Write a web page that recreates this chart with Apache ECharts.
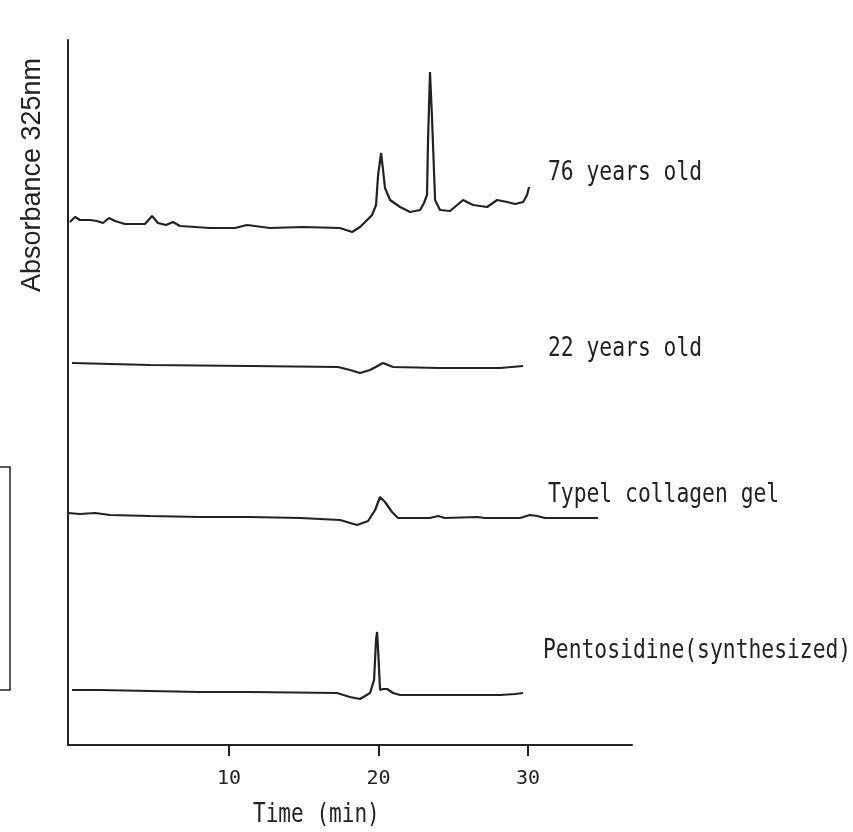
<!DOCTYPE html>
<html>
<head>
<meta charset="utf-8">
<script src="https://cdn.jsdelivr.net/npm/echarts@6/dist/echarts.min.js"></script>
<style>html,body{margin:0;padding:0;background:#fff}#c{width:853px;height:832px}</style>
</head>
<body>
<div id="c"></div>
<script>
// Retention time (min) and absorbance (arbitrary units, traces stacked with offsets)
var t76 = [-0.64,-0.30,0.03,0.70,1.17,1.57,1.97,2.37,3.04,4.38,4.85,5.25,5.79,6.25,6.72,8.73,10.40,11.20,12.74,14.95,17.42,18.23,18.76,19.10,19.57,19.83,19.97,20.17,20.30,20.43,20.77,21.44,22.11,22.78,23.04,23.24,23.31,23.44,23.58,23.78,24.11,24.78,25.65,26.32,27.26,27.93,28.60,29.13,29.67,29.93,30.07];
var a76 = [523,528,525,525,524,522,527,524,521,521,529,522,520,523,519,517,517,520,517,518,517,513,518,523,530,540,570,592,575,557,545,538,533,535,542,550,605,673,625,545,535,534,545,540,538,545,543,541,543,550,558];

var t22 = [-0.50,4.72,11.40,17.29,18.09,18.76,19.43,20.30,20.97,24.11,28.13,29.67];
var a22 = [382,380,379,378,375,372,375,382,378,377,377,379];

var tGel = [-0.77,0.03,1.04,2.04,4.72,8.06,11.40,14.75,17.42,18.56,19.30,19.77,20.10,20.43,20.90,21.30,23.44,23.98,24.44,26.59,27.12,29.46,30.13,30.60,31.14,34.68];
var aGel = [232,231,232,230,229,228,228,227,225,220,224,235,248,243,233,227,227,229,227,228,227,227,230,229,227,227];

var tPen = [-0.50,1.37,4.72,8.06,11.40,17.22,18.09,18.76,19.43,19.70,19.83,19.90,19.97,20.10,20.30,20.57,20.97,21.44,28.13,29.13,29.67];
var aPen = [55,55,54,53,53,52,48,46,52,65,105,113,95,55,56,56,52,50,50,51,52];

var tickValues = [10, 20, 30];
var seriesNames = ['76 years old', '22 years old', 'Typel collagen gel', 'Pentosidine(synthesized)'];

function zip(t, a) { return t.map(function (v, i) { return [v, a[i]]; }); }
var traces = [zip(t76, a76), zip(t22, a22), zip(tGel, aGel), zip(tPen, aPen)];

var mono = "'DejaVu Sans Mono', 'Liberation Mono', monospace";
var ink = '#222';

var chart = echarts.init(document.getElementById('c'), null, { renderer: 'canvas' });
var labelPos = [[548, 173], [548, 349], [548, 495], [543, 651]];

var graphics = seriesNames.map(function (n, i) {
  return {
    type: 'text', x: labelPos[i][0], y: labelPos[i][1], scaleX: 0.79,
    style: { text: n, font: '27px ' + mono, fill: ink, textAlign: 'left', textVerticalAlign: 'middle' }
  };
});
graphics.push({
  type: 'text', x: 253, y: 815, scaleX: 0.78,
  style: { text: 'Time (min)', font: '27px ' + mono, fill: ink, textAlign: 'left', textVerticalAlign: 'middle' }
});
graphics.push({
  type: 'text', x: 33, y: 175, rotation: Math.PI / 2,
  style: { text: 'Absorbance 325nm', font: "27px 'Liberation Sans', Arial, sans-serif", fill: ink, textAlign: 'center', textVerticalAlign: 'middle' }
});
graphics.push({
  type: 'rect', shape: { x: -1, y: 467, width: 11, height: 223 },
  style: { fill: 'none', stroke: '#222', lineWidth: 1.5 }
});

chart.setOption({
  animation: false,
  backgroundColor: '#fff',
  grid: { left: 68, right: 221, top: 40, bottom: 87, containLabel: false, outerBoundsMode: 'none' },
  xAxis: {
    type: 'value', min: -0.77, max: 36.95,
    axisLine: { show: true, onZero: false, lineStyle: { color: '#222', width: 2 } },
    axisTick: { show: true, length: 11, customValues: tickValues, lineStyle: { color: '#222', width: 2 } },
    axisLabel: { customValues: tickValues, fontFamily: mono, fontSize: 20, color: ink, margin: 24 },
    splitLine: { show: false }
  },
  yAxis: {
    type: 'value', min: 0, max: 705,
    axisLine: { show: true, onZero: false, lineStyle: { color: '#222', width: 2 } },
    axisTick: { show: false }, axisLabel: { show: false }, splitLine: { show: false }
  },
  series: traces.map(function (d, i) {
    return {
      name: seriesNames[i], type: 'line', data: d, showSymbol: false, smooth: false,
      lineStyle: { color: ink, width: 2.2 }
    };
  }),
  graphic: graphics
});
</script>
</body>
</html>
